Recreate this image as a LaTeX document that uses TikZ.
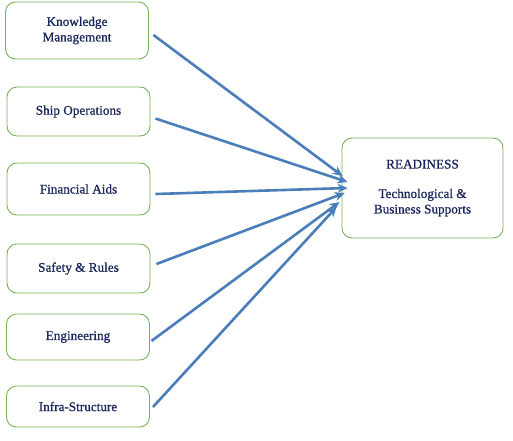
\documentclass[tikz,border=0pt]{standalone}
\usepackage{fontspec}
\setmainfont{Liberation Serif}
\newfontfamily\boxfont{Liberation Serif}[FakeBold=0.8]
\usetikzlibrary{arrows.meta}
\definecolor{boxgreen}{HTML}{77B255}
\definecolor{arrowblue}{HTML}{4A7EBB}
\definecolor{txtblue}{HTML}{18255A}
\tikzset{
  inbox/.style={draw=boxgreen, line width=0.9pt, rounded corners=10pt, fill=white,
    minimum width=143pt, align=center, inner sep=0pt,
    font=\boxfont\fontsize{13.2}{15.5}\selectfont, text=txtblue},
  arr/.style={draw=arrowblue, line width=2.6pt, -{Stealth[length=10pt,width=9pt]}}
}
\begin{document}
\begin{tikzpicture}[x=1pt,y=1pt]
\useasboundingbox (0,0) rectangle (513,-440);
\node[inbox, minimum height=57pt] (k) at (77,-30.5) {Knowledge\\Management};
\node[inbox, minimum height=49pt] (s) at (78.5,-111.5) {Ship Operations};
\node[inbox, minimum height=52pt] (f) at (78.5,-189) {Financial Aids};
\node[inbox, minimum height=49pt] (sr) at (78.5,-268.5) {Safety \& Rules};
\node[inbox, minimum height=46pt] (e) at (78,-337) {Engineering};
\node[inbox, minimum height=41pt] (i) at (78,-406.5) {Infra-Structure};
\node[inbox, minimum width=161pt, minimum height=100pt] (r) at (422.5,-188)
  {READINESS\\[14pt]Technological \&\\Business Supports};
\draw[arr] ([xshift=4.5pt,yshift=-4.5pt]k.east) -- ([xshift=1pt,yshift=12pt]r.west);
\draw[arr] ([xshift=5pt,yshift=-7pt]s.east) -- ([xshift=6pt,yshift=6pt]r.west);
\draw[arr] ([xshift=5pt,yshift=-5pt]f.east) -- ([xshift=6pt,yshift=0pt]r.west);
\draw[arr] ([xshift=6pt,yshift=4.5pt]sr.east) -- ([xshift=3pt,yshift=-5pt]r.west);
\draw[arr] ([xshift=1.5pt,yshift=-4pt]e.east) -- ([xshift=-2pt,yshift=-14pt]r.west);
\draw[arr] ([xshift=3pt,yshift=-0.5pt]i.east) -- ([xshift=-5pt,yshift=-19pt]r.west);
\end{tikzpicture}
\end{document}
